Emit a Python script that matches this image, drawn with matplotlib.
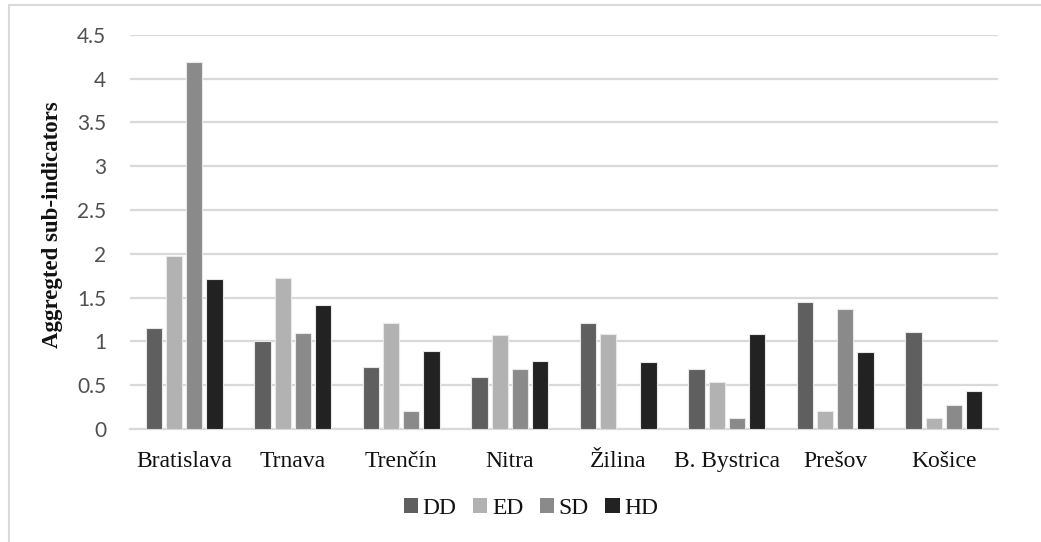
import matplotlib
matplotlib.use("Agg")
import matplotlib.pyplot as plt
import numpy as np
from matplotlib.patches import Rectangle

regions = ["Bratislava", "Trnava", "Trenčín", "Nitra", "Žilina", "B. Bystrica", "Prešov", "Košice"]
series = ["DD", "ED", "SD", "HD"]
dd = [1.15, 1.01, 0.71, 0.59, 1.21, 0.69, 1.45, 1.11]
ed = [1.97, 1.72, 1.21, 1.07, 1.08, 0.54, 0.20, 0.13]
sd = [4.19, 1.10, 0.21, 0.68, 0.0, 0.12, 1.37, 0.27]
hd = [1.71, 1.42, 0.89, 0.78, 0.76, 1.08, 0.88, 0.43]
yticks = [0, 0.5, 1, 1.5, 2, 2.5, 3, 3.5, 4, 4.5]
ytick_labels = ["0", "0.5", "1", "1.5", "2", "2.5", "3", "3.5", "4", "4.5"]

colors = ["#5f5f5f", "#b2b2b2", "#8a8a8a", "#222222"]

W, H = 1041, 542
fig = plt.figure(figsize=(W / 100, H / 100), dpi=100)
fig.patch.set_facecolor("white")

# chart frame (light grey border, clipped by the image edges)
fig.patches.append(Rectangle((9 / W, -0.1), 1.2, 1.1 - 5 / H, transform=fig.transFigure,
                             fill=False, edgecolor="#d9d9d9", linewidth=1.5))

ax = fig.add_axes([130 / W, (H - 429) / H, (998 - 130) / W, (429 - 34.7) / H])

x = np.arange(len(regions))
step = 0.186
width = 0.148
for i, (vals, name) in enumerate(zip([dd, ed, sd, hd], series)):
    ax.bar(x + (i - 1.5) * step, vals, width, color=colors[i], label=name,
           edgecolor="#e8e8e8", linewidth=0.8, zorder=3)

ax.set_xlim(-0.5, len(regions) - 0.5)
ax.set_ylim(0, 4.5)
ax.set_yticks(yticks)
ax.set_yticklabels(ytick_labels, fontfamily="Lato", fontsize=15, color="#505050")
ax.yaxis.grid(True, color="#d9d9d9", linewidth=1.6, zorder=0)
ax.set_axisbelow(True)
ax.tick_params(axis="y", length=0, pad=17)
ax.tick_params(axis="x", length=0, pad=15.5)
ax.set_xticks(x)
ax.set_xticklabels(regions, fontfamily="Liberation Serif", fontsize=17, color="#111111")
for side in ["left", "right", "top"]:
    ax.spines[side].set_visible(False)
ax.spines["bottom"].set_color("#d9d9d9")
ax.spines["bottom"].set_linewidth(1.6)

fig.text(53 / W, 1 - 225 / H, "Aggregted sub-indicators", rotation=90,
         ha="center", va="center", fontfamily="Liberation Serif",
         fontweight="bold", fontsize=16.5, color="#111111")

leg = fig.legend(loc="center", bbox_to_anchor=(531 / W, 1 - 508 / H), ncol=4,
                 frameon=False, prop={"family": "Liberation Serif", "size": 17},
                 handlelength=0.6, handleheight=0.6, handletextpad=0.2,
                 columnspacing=0.7)
for t in leg.get_texts():
    t.set_color("#111111")
for p in leg.get_patches():
    p.set_edgecolor("none")

fig.savefig("out.png", dpi=100, facecolor="white")
